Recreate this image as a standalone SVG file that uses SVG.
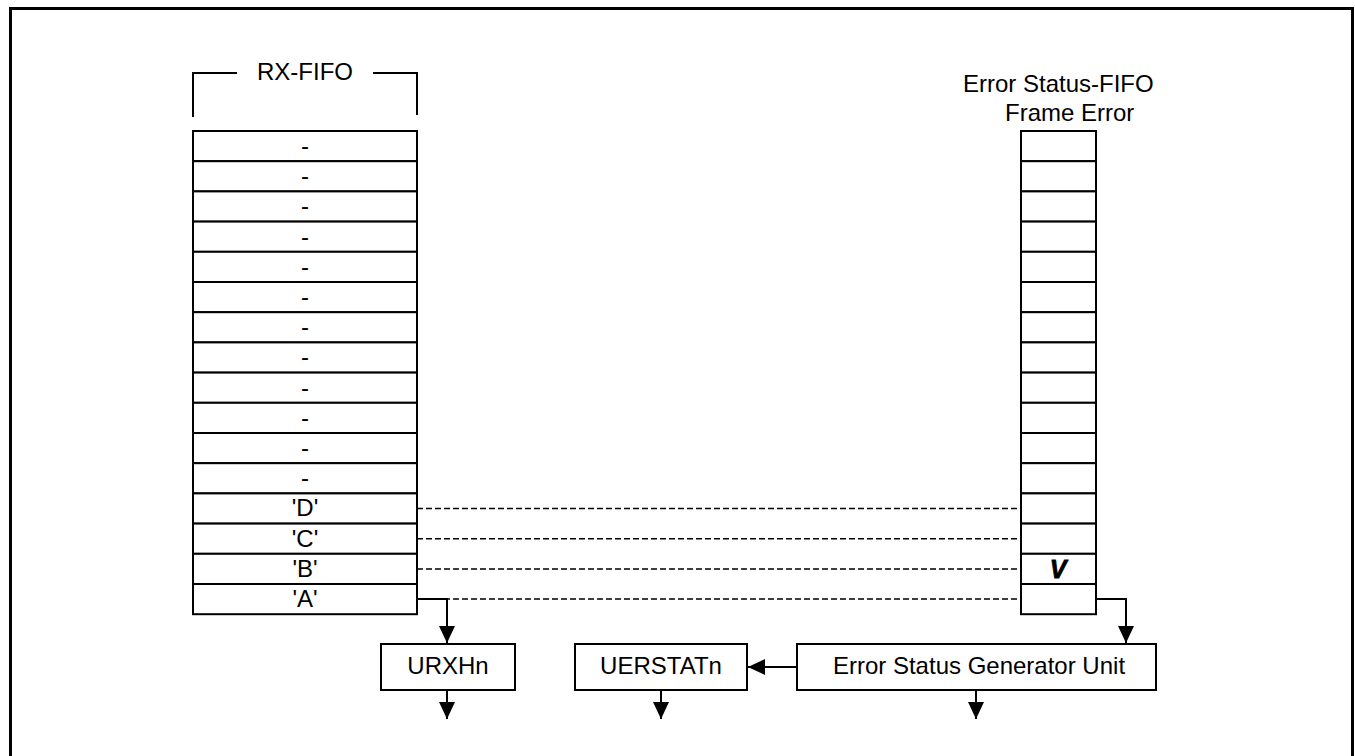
<svg xmlns="http://www.w3.org/2000/svg" width="1355" height="756" viewBox="0 0 1355 756">
<style>
text{font-family:"Liberation Sans",Arial,sans-serif;font-size:24px;fill:#000}
.c{text-anchor:middle}
.box{fill:#fff;stroke:#000;stroke-width:2}
.ln{fill:none;stroke:#000;stroke-width:2}
.dash{fill:none;stroke:#000;stroke-width:1.5;stroke-dasharray:6 3}
.chk{font-size:25px;font-weight:bold;font-style:italic;stroke:#000;stroke-width:0.8}
</style>
<defs>
<marker id="ah" markerUnits="userSpaceOnUse" markerWidth="18" markerHeight="18" viewBox="0 0 17 18" refX="17" refY="9" orient="auto">
<path d="M0,1 L17,9 L0,17 Z" fill="#000"/>
</marker>
</defs>
<rect width="1355" height="756" fill="#fff"/>
<path d="M10.5,756 V8.5 H1352.5 V756" fill="none" stroke="#000" stroke-width="3"/>

<g id="rx-fifo">
<path class="ln" d="M193,117 V73 H237 M373,73 H417 V115"/>
<text class="c" x="305" y="80">RX-FIFO</text>
<rect class="box" x="193" y="131" width="224" height="30.2"/>
<rect class="box" x="193" y="161.2" width="224" height="30.2"/>
<rect class="box" x="193" y="191.4" width="224" height="30.2"/>
<rect class="box" x="193" y="221.6" width="224" height="30.2"/>
<rect class="box" x="193" y="251.8" width="224" height="30.2"/>
<rect class="box" x="193" y="282" width="224" height="30.2"/>
<rect class="box" x="193" y="312.2" width="224" height="30.2"/>
<rect class="box" x="193" y="342.4" width="224" height="30.2"/>
<rect class="box" x="193" y="372.6" width="224" height="30.2"/>
<rect class="box" x="193" y="402.8" width="224" height="30.2"/>
<rect class="box" x="193" y="433" width="224" height="30.2"/>
<rect class="box" x="193" y="463.2" width="224" height="30.2"/>
<rect class="box" x="193" y="493.4" width="224" height="30.2"/>
<rect class="box" x="193" y="523.6" width="224" height="30.2"/>
<rect class="box" x="193" y="553.8" width="224" height="30.2"/>
<rect class="box" x="193" y="584" width="224" height="30.2"/>
<text class="c" x="305" y="154">-</text>
<text class="c" x="305" y="184.2">-</text>
<text class="c" x="305" y="214.4">-</text>
<text class="c" x="305" y="244.6">-</text>
<text class="c" x="305" y="274.8">-</text>
<text class="c" x="305" y="305">-</text>
<text class="c" x="305" y="335.2">-</text>
<text class="c" x="305" y="365.4">-</text>
<text class="c" x="305" y="395.6">-</text>
<text class="c" x="305" y="425.8">-</text>
<text class="c" x="305" y="456">-</text>
<text class="c" x="305" y="486.2">-</text>
<text class="c" x="305" y="516.4">'D'</text>
<text class="c" x="305" y="546.6">'C'</text>
<text class="c" x="305" y="576.8">'B'</text>
<text class="c" x="305" y="607">'A'</text>
</g>

<g id="error-fifo">
<text x="963" y="92">Error Status-FIFO</text>
<text x="1005" y="121">Frame Error</text>
<rect class="box" x="1021" y="131" width="75" height="30.2"/>
<rect class="box" x="1021" y="161.2" width="75" height="30.2"/>
<rect class="box" x="1021" y="191.4" width="75" height="30.2"/>
<rect class="box" x="1021" y="221.6" width="75" height="30.2"/>
<rect class="box" x="1021" y="251.8" width="75" height="30.2"/>
<rect class="box" x="1021" y="282" width="75" height="30.2"/>
<rect class="box" x="1021" y="312.2" width="75" height="30.2"/>
<rect class="box" x="1021" y="342.4" width="75" height="30.2"/>
<rect class="box" x="1021" y="372.6" width="75" height="30.2"/>
<rect class="box" x="1021" y="402.8" width="75" height="30.2"/>
<rect class="box" x="1021" y="433" width="75" height="30.2"/>
<rect class="box" x="1021" y="463.2" width="75" height="30.2"/>
<rect class="box" x="1021" y="493.4" width="75" height="30.2"/>
<rect class="box" x="1021" y="523.6" width="75" height="30.2"/>
<rect class="box" x="1021" y="553.8" width="75" height="30.2"/>
<rect class="box" x="1021" y="584" width="75" height="30.2"/>
<text class="c chk" x="1058" y="578">V</text>
</g>

<g id="urxhn">
<rect class="box" x="381" y="644" width="134" height="46"/>
<text class="c" x="448" y="674">URXHn</text>
</g>
<g id="uerstatn">
<rect class="box" x="575" y="644" width="172" height="46"/>
<text class="c" x="661" y="674">UERSTATn</text>
</g>
<g id="esgu">
<rect class="box" x="797" y="644" width="359" height="46"/>
<text class="c" x="979" y="674">Error Status Generator Unit</text>
</g>

<g id="connectors">
<path class="dash" d="M417,508.5 H1019"/>
<path class="dash" d="M417,538.7 H1019"/>
<path class="dash" d="M417,568.9 H1019"/>
<path class="dash" d="M417,599.1 H1019"/>
<path class="ln" d="M417,599 H447 V643" marker-end="url(#ah)"/>
<path class="ln" d="M447,690 V719" marker-end="url(#ah)"/>
<path class="ln" d="M1096,599 H1126 V643" marker-end="url(#ah)"/>
<path class="ln" d="M797,667 H748" marker-end="url(#ah)"/>
<path class="ln" d="M661,690 V719" marker-end="url(#ah)"/>
<path class="ln" d="M976,690 V719" marker-end="url(#ah)"/>
</g>
</svg>
